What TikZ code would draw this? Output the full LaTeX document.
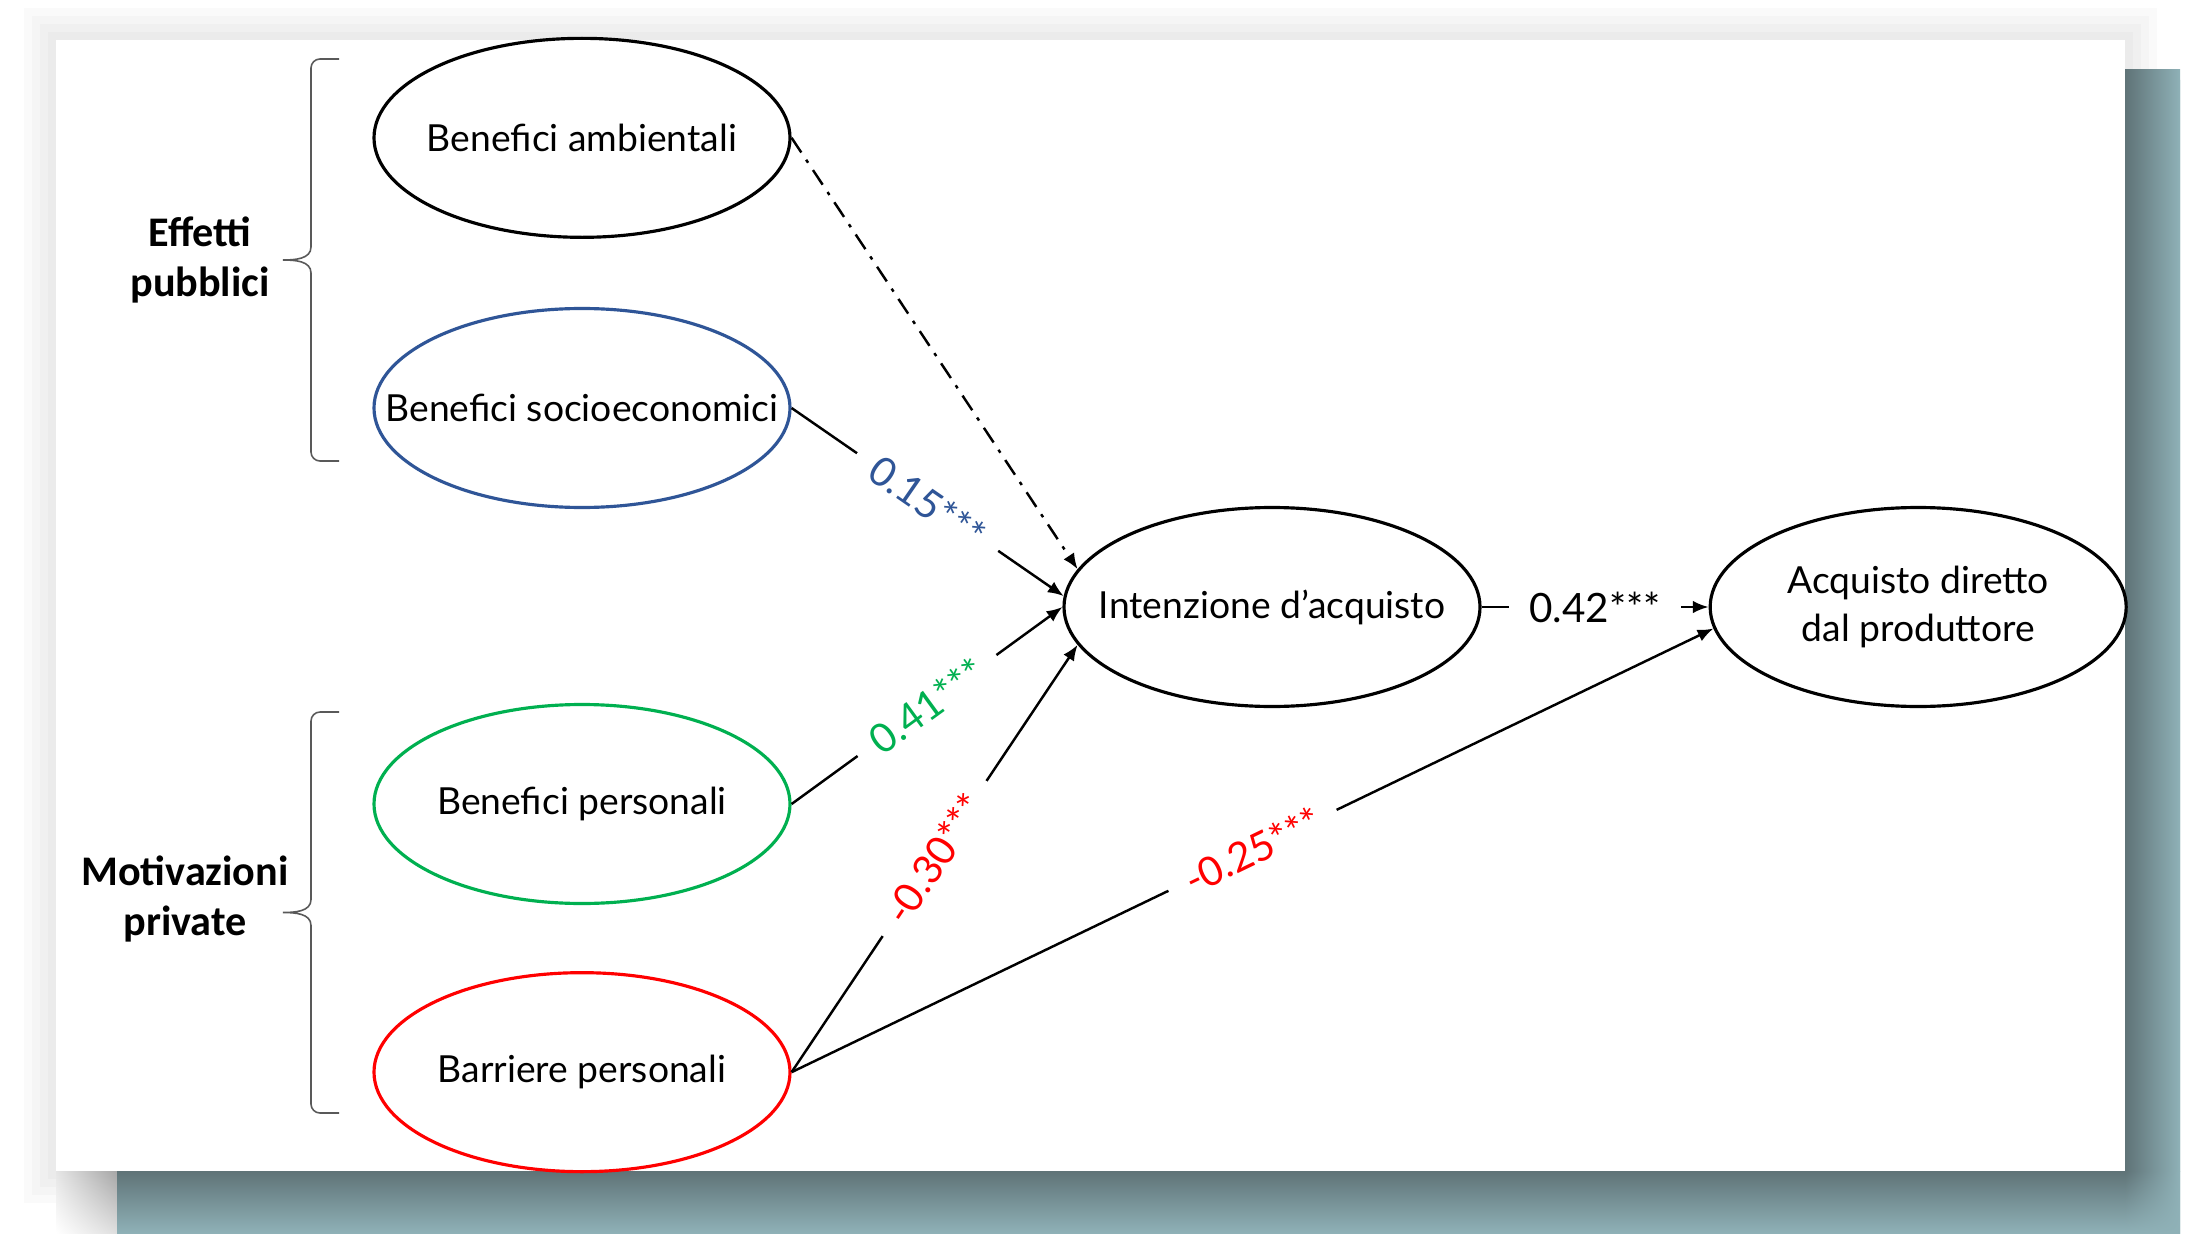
\documentclass[tikz,border=0pt]{standalone}
\usepackage{fontspec}
\setmainfont{Lato}
\newfontfamily\groupfont{Carlito}
\usetikzlibrary{arrows.meta, positioning, shapes.geometric, shadings}

\definecolor{sembblue}{HTML}{2F5597}
\definecolor{sembgreen}{HTML}{00B050}
\definecolor{sembred}{HTML}{FF0000}
\definecolor{bracegray}{HTML}{595959}
\definecolor{tealdark}{HTML}{5F7377}
\definecolor{teallight}{HTML}{8FB1B7}

\begin{document}
\begin{tikzpicture}[
            > = {Latex[length=4.5pt, width=3.6pt]}, % arrow head style
            line width = 0.7pt, % line style
            node distance = 0.68cm % gap between stacked ellipses
        ]

        \tikzstyle{latent}=[
            ellipse,
            draw = black,
            line width = 0.9pt,
            minimum width = 4.16cm,
            minimum height = 1.99cm,
            inner xsep = -6mm,
            font = \fontsize{10.6}{13.6}\selectfont
        ]
        \tikzstyle{coef}=[
            fill = white,
            inner xsep = 2mm,
            inner ysep = 0.5mm,
            font = \fontsize{11.5}{13}\selectfont
        ]
        \tikzstyle{group}=[
            align = center,
            font = \groupfont\bfseries\fontsize{12}{14.2}\selectfont
        ]
        \tikzstyle{curly}=[
            draw = bracegray,
            line width = 0.45pt
        ]

        % slide background
        \useasboundingbox (0,0) rectangle (22.12,-12.33);
        \fill[white] (0,0) rectangle (22.12,-12.33);
        \foreach \d in {0.08,0.16,0.24,0.32}
            \fill[black, opacity = 0.02] (0.56-\d,-0.40+\d) rectangle (21.25+\d,-11.71-\d);
        \shade[upper left = gray!20, upper right = gray!70, lower left = white, lower right = gray!25] (0.56,-11.71) rectangle (1.17,-12.33);
        \fill[teallight, rounded corners = 1mm] (1.17,-0.70) rectangle (21.80,-12.50);
        \shade[left color = tealdark, right color = teallight] (21.25,-0.70) rectangle (21.80,-11.71);
        \shade[top color = tealdark, bottom color = teallight] (1.17,-11.71) rectangle (21.25,-12.33);
        \shade[upper left = tealdark, upper right = teallight, lower left = teallight, lower right = teallight] (21.25,-11.71) rectangle (21.80,-12.33);
        \fill[white] (0.56,-0.40) rectangle (21.25,-11.71);

        % constructs
        \node[latent, draw = sembblue] (soc) at (5.82,-4.08) {Benefici socioeconomici};
        \node[latent] (amb) [above = of soc] {Benefici ambientali};
        \node[latent, draw = sembgreen] (pers) at (5.82,-8.04) {Benefici personali};
        \node[latent, draw = sembred] (barr) [below = 0.66cm of pers] {Barriere personali};
        \node[latent] (int) at (12.72,-6.07) {Intenzione d’acquisto};
        \node[latent, align = center] (acq) [right = 2.27cm of int] {Acquisto diretto\\dal produttore};

        % groups
        \node[group] (pub) at (2.00,-2.60) {Effetti\\pubblici};
        \node[group] (priv) at (1.85,-8.99) {Motivazioni\\private};
        \foreach \ytop/\ybot in {-0.59/-4.61, -7.12/-11.13} {
            \pgfmathsetmacro{\ymid}{(\ytop+\ybot)/2}
            \draw[curly] (3.39,\ytop) -- (3.20,\ytop) to[out=180, in=90] (3.11,\ytop-0.09)
                -- (3.11,\ymid+0.13) to[out=-90, in=0] (2.83,\ymid)
                to[out=0, in=90] (3.11,\ymid-0.13) -- (3.11,\ybot+0.09)
                to[out=-90, in=180] (3.20,\ybot) -- (3.39,\ybot);
        }

        % paths
        \draw[->, dash pattern = on 5pt off 2.5pt on 1pt off 2.5pt] (amb.east) -- (int.169);
        \draw[->] (soc.east) -- node[coef, sloped, text = sembblue] {0.15***} (int.177);
        \draw[->] (pers.east) -- node[coef, sloped, text = sembgreen] {0.41***} (int.west);
        \draw[->] (barr.east) -- node[coef, sloped, text = sembred] {-0.30***} (int.191);
        \draw[->] (barr.east) -- node[coef, sloped, text = sembred] {-0.25***} (acq.186);
        \draw[->] (int.east) -- node[coef] {0.42***} (acq.west);
    \end{tikzpicture}
\end{document}
